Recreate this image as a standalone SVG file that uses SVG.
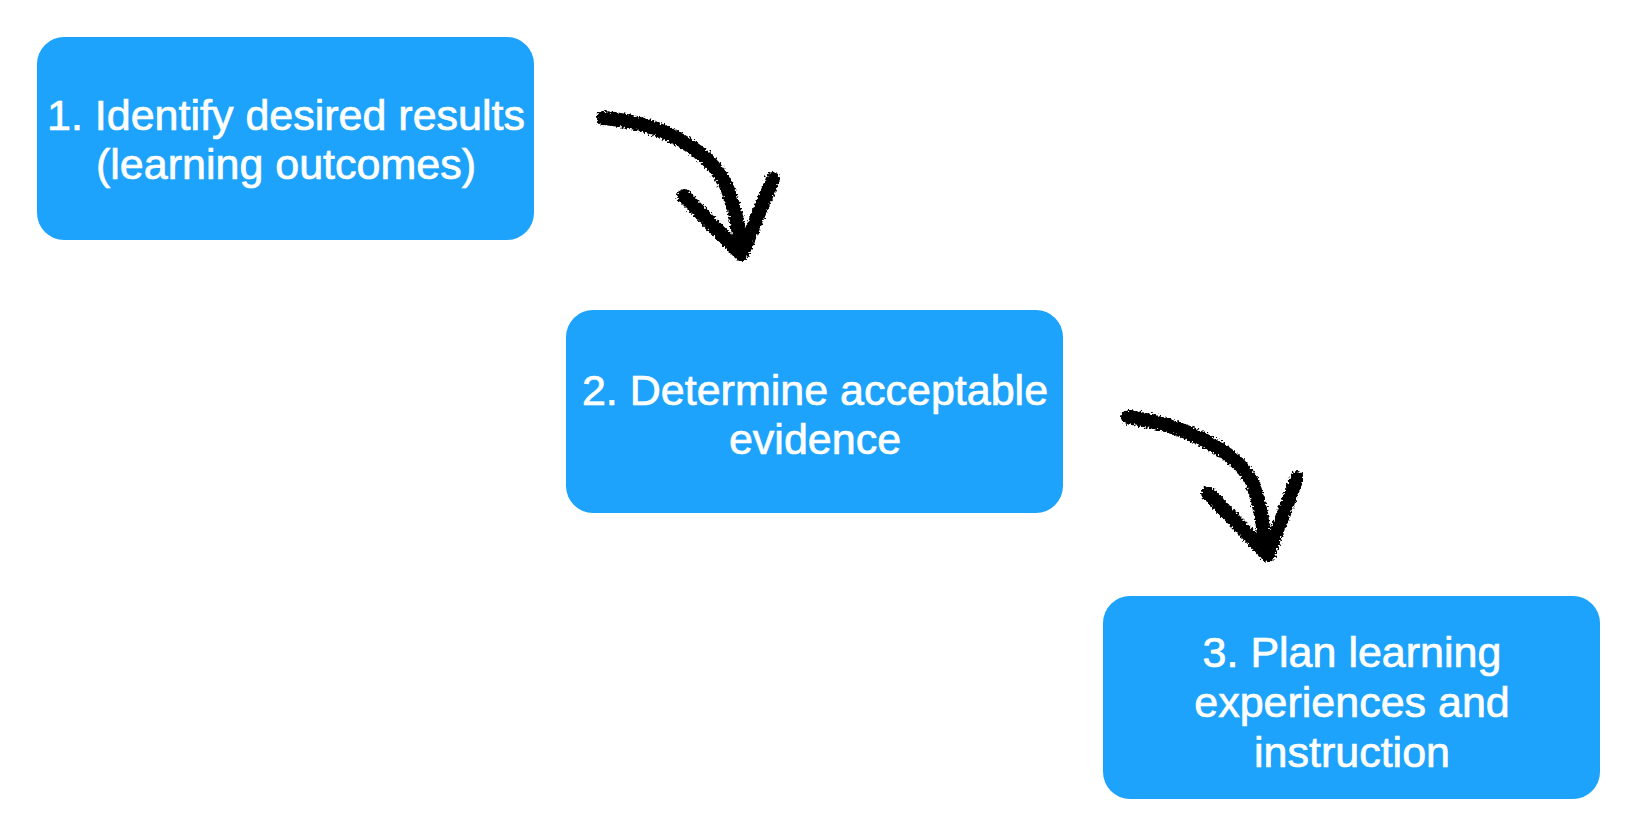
<svg xmlns="http://www.w3.org/2000/svg" width="1628" height="826" viewBox="0 0 1628 826">
  <style>
    .box { fill: #1EA3FC; }
    .lbl { fill: #FFFFFF; stroke: #FFFFFF; stroke-width: 0.7; font-family: "Liberation Sans", Arial, Helvetica, sans-serif; font-size: 43px; text-anchor: middle; }
    .arrow { fill: none; stroke: #000000; stroke-width: 14; stroke-linecap: round; stroke-linejoin: round; filter: url(#chalk); }
  </style>
  <defs>
    <filter id="chalk" x="-20%" y="-20%" width="140%" height="140%">
      <feTurbulence type="fractalNoise" baseFrequency="0.5" numOctaves="2" seed="7" result="noise"/>
      <feDisplacementMap in="SourceGraphic" in2="noise" scale="7" xChannelSelector="R" yChannelSelector="G"/>
    </filter>
  </defs>
  <rect width="1628" height="826" fill="#FFFFFF"/>

  <g id="node1">
    <rect class="box" x="37" y="37" width="497" height="203" rx="27" ry="27"/>
    <text class="lbl" x="286" y="130">1. Identify desired results</text>
    <text class="lbl" x="286" y="179">(learning outcomes)</text>
  </g>

  <g id="node2">
    <rect class="box" x="566" y="310" width="497" height="203" rx="27" ry="27"/>
    <text class="lbl" x="815" y="405">2. Determine acceptable</text>
    <text class="lbl" x="815" y="454">evidence</text>
  </g>

  <g id="node3">
    <rect class="box" x="1103" y="596" width="497" height="203" rx="27" ry="27"/>
    <text class="lbl" x="1352" y="667">3. Plan learning</text>
    <text class="lbl" x="1352" y="717">experiences and</text>
    <text class="lbl" x="1352" y="767">instruction</text>
  </g>

  <g id="connectors">
    <g id="arrow1">
      <path class="arrow" d="M603,118 C660,122 712,150 728,190 C736,212 740,235 740,250"/>
      <path class="arrow" d="M684,196 L741,254"/>
      <path class="arrow" d="M773,179 L742,254"/>
    </g>
    <g id="arrow2">
      <path class="arrow" d="M1128,417 C1185,425 1235,450 1252,482 C1261,505 1264,530 1265,550"/>
      <path class="arrow" d="M1208,493 L1268,555"/>
      <path class="arrow" d="M1297,478 L1268,555"/>
    </g>
  </g>
</svg>
